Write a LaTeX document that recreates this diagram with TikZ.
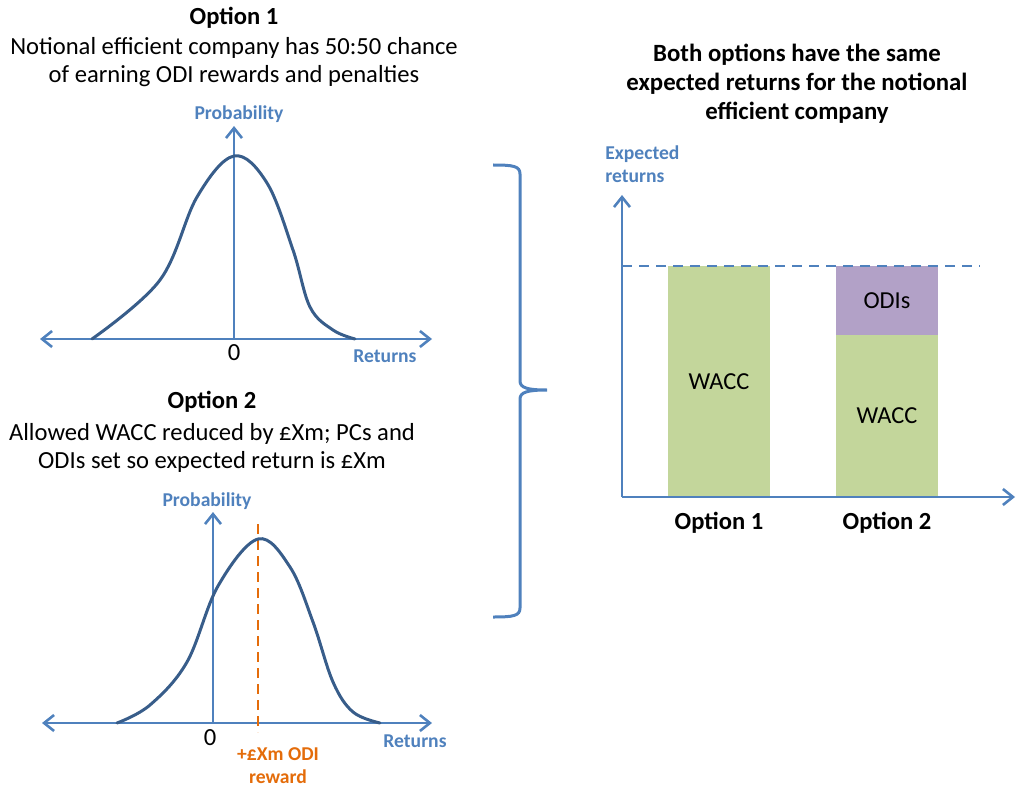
\documentclass[tikz,border=0pt]{standalone}
\usepackage{fontspec}
\setmainfont{Carlito}
\usetikzlibrary{arrows.meta,positioning}
\definecolor{AxisBlue}{RGB}{79,129,189}
\definecolor{CurveBlue}{RGB}{56,93,138}
\definecolor{WaccGreen}{RGB}{195,214,155}
\definecolor{OdiPurple}{RGB}{178,161,199}
\definecolor{RewardOrange}{RGB}{228,108,10}
\tikzset{
  axisline/.style={draw=AxisBlue,line width=1.3pt,
    -{Straight Barb[length=5pt,width=8pt]}},
  axisboth/.style={draw=AxisBlue,line width=1.3pt,
    {Straight Barb[length=5pt,width=8pt]}-{Straight Barb[length=5pt,width=8pt]}},
  bellcurve/.style={draw=CurveBlue,line width=1.5pt,line cap=round},
  optitle/.style={font=\fontsize{12.3}{14}\selectfont\bfseries,inner sep=0pt},
  opdesc/.style={font=\fontsize{12.3}{14}\selectfont,align=center,inner sep=0pt},
  axislabel/.style={text=AxisBlue,font=\fontsize{9.8}{11.5}\selectfont\bfseries,
    align=left,inner sep=0pt},
  barbox/.style={inner sep=0pt,minimum width=51pt,font=\fontsize{12.2}{14}\selectfont},
}
\begin{document}
\begin{tikzpicture}[x=0.5pt,y=-0.5pt]
\useasboundingbox (0,0) rectangle (1016,786);

% option 1
\node[optitle] (t1) at (234,18) {Option 1};
\node[opdesc] (d1) at (234,62) {Notional efficient company has 50:50 chance\\of earning ODI rewards and penalties};
\coordinate (o1) at (234,339);
\draw[axisboth] (40,339) -- (432,339);
\draw[axisline] (o1) -- (234,126);
\node[axislabel] (p1) at (239,114) {Probability};
\node[axislabel] (r1) at (385,356) {Returns};
\node[opdesc] (z1) at (234,353) {0};
\draw[bellcurve] plot[smooth,tension=0.6] coordinates {(92,339) (160,280) (197,197) (234,156)
  (267,183) (293,250) (310,307) (333,330) (355,339)};

% option 2
\node[optitle] (t2) at (212,402) {Option 2};
\node[opdesc] (d2) at (212,448) {Allowed WACC reduced by £Xm; PCs and\\ODIs set so expected return is £Xm};
\coordinate (o2) at (213,723);
\draw[axisboth] (42,723) -- (432,723);
\draw[axisline] (o2) -- (213,512);
\node[axislabel] (p2) at (207,501) {Probability};
\node[axislabel] (r2) at (415,741) {Returns};
\node[opdesc] (z2) at (210,738) {0};
\draw[RewardOrange,line width=1.3pt,dash pattern=on 5pt off 3pt] (258,524) -- (258,732);
\draw[bellcurve] plot[smooth,tension=0.6] coordinates {(117,723) (150,705) (187,662)
  (218,586) (258,539) (290,567) (313,622) (333,682) (353,712) (380,723)};
\node[axislabel,text=RewardOrange,align=center] (rw) at (278,766) {+£Xm ODI\\reward};

% brace
\draw[AxisBlue,line width=1.5pt] (493,165) .. controls (513,165) and (520,166) .. (520,174)
  -- (520,381) .. controls (520,388) and (528,390) .. (547,390)
  .. controls (528,390) and (520,392) .. (520,399)
  -- (520,608) .. controls (520,616) and (513,617) .. (493,617);

% expected returns
\node[optitle,align=center,font=\fontsize{12.4}{14.5}\selectfont\bfseries] (t3) at (797,84)
  {Both options have the same\\expected returns for the notional\\efficient company};
\node[axislabel,anchor=west] (er) at (605,164) {Expected\\returns};
\node[barbox,fill=WaccGreen,minimum height=115.5pt] (b1) at (719,381.5) {WACC};
\node[barbox,fill=WaccGreen,minimum height=81pt] (b2) at (887,416) {WACC};
\node[barbox,fill=OdiPurple,minimum height=34.5pt] (b3) at (887,300.5) {ODIs};
\coordinate (o3) at (622,497);
\draw[AxisBlue,line width=1.3pt,dash pattern=on 5pt off 3.5pt] (622,266) -- (980,266);
\draw[axisline] (o3) -- (622,195);
\draw[axisline] (o3) -- (1015,497);
\node[optitle] (x1) at (719,523) {Option 1};
\node[optitle] (x2) at (887,523) {Option 2};
\end{tikzpicture}
\end{document}
